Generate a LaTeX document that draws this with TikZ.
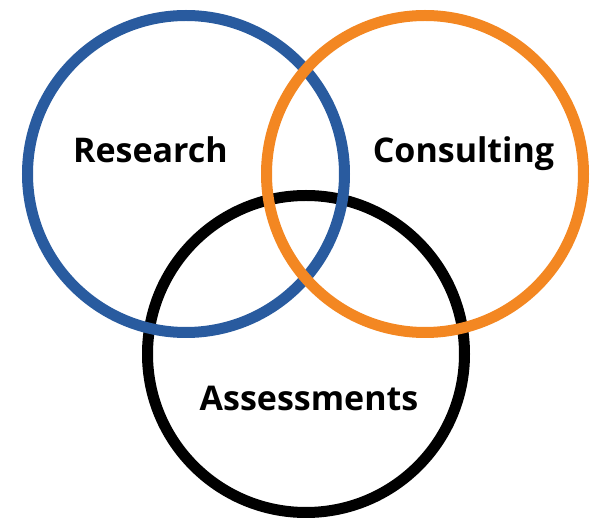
\documentclass[tikz,border=0pt]{standalone}
\usepackage{fontspec}
\setmainfont{Open Sans}
\definecolor{rblue}{RGB}{41,91,159}
\definecolor{corange}{RGB}{243,135,34}
\begin{document}
\begin{tikzpicture}[x=1pt,y=-1pt,
  ring/.style={line width=11pt},
  lbl/.style={font=\fontsize{34}{40}\selectfont\bfseries, anchor=base, inner sep=0pt}]
\useasboundingbox (0,0) rectangle (598,518);
\draw[ring, black] (306,354) circle[radius=158.5];
\draw[ring, rblue] (186,174) circle[radius=158.5];
\draw[ring, corange] (425,174) circle[radius=158.5];
\node[lbl] (research) at (150.5,163) {Research};
\node[lbl] (consulting) at (463.5,163) {Consulting};
\node[lbl] (assess) at (309,411) {Assessments};
\end{tikzpicture}
\end{document}
